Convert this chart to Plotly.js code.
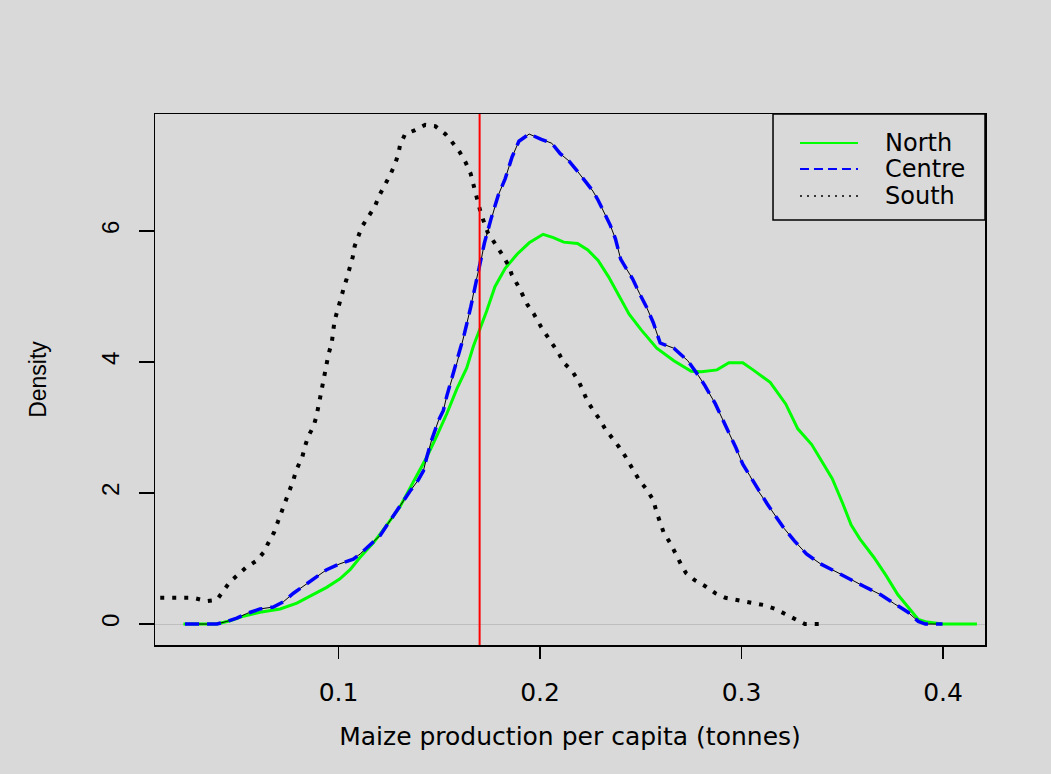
<!DOCTYPE html>
<html>
<head>
<meta charset="utf-8">
<script src="https://cdn.plot.ly/plotly-3.0.1.min.js"></script>
<style>html,body{margin:0;padding:0;background:#d9d9d9;}#chart{width:1051px;height:774px;}</style>
</head>
<body>
<div id="chart"></div>
<script>
// Density estimates
const northX = [0.023,0.0396,0.0462,0.0528,0.061,0.071,0.0793,0.0875,0.0941,0.1007,0.1057,0.1107,0.1173,0.1239,0.1305,0.1371,0.1438,0.1487,0.1537,0.1587,0.1636,0.1669,0.1702,0.1735,0.1776,0.1827,0.1887,0.1946,0.2015,0.2066,0.2117,0.2186,0.2237,0.2288,0.234,0.239,0.2442,0.2502,0.2579,0.2664,0.275,0.2801,0.2878,0.2937,0.3006,0.3057,0.3142,0.3219,0.3279,0.3348,0.3407,0.345,0.3502,0.3544,0.3587,0.3656,0.3715,0.3775,0.3826,0.3877,0.392,0.3997,0.4168];
const northY = [0,0,0.05,0.12,0.18,0.23,0.32,0.45,0.56,0.69,0.83,1.02,1.24,1.51,1.79,2.17,2.55,2.87,3.21,3.59,3.91,4.24,4.51,4.78,5.15,5.43,5.65,5.82,5.95,5.90,5.83,5.81,5.71,5.55,5.30,5.01,4.73,4.49,4.21,4.02,3.86,3.85,3.88,3.99,3.99,3.88,3.69,3.36,2.98,2.74,2.44,2.22,1.84,1.51,1.30,1.02,0.75,0.45,0.26,0.07,0.03,0,0];

const centreX = [0.0238,0.0396,0.0445,0.0495,0.0544,0.061,0.0676,0.0726,0.0776,0.0825,0.0875,0.0941,0.1007,0.1073,0.1107,0.1156,0.1206,0.1247,0.1289,0.1322,0.1355,0.1396,0.1421,0.1438,0.1463,0.1495,0.152,0.1537,0.1562,0.1588,0.1622,0.1656,0.1681,0.1707,0.1724,0.1758,0.1793,0.1827,0.1861,0.1895,0.1946,0.2006,0.2058,0.21,0.2143,0.2186,0.222,0.2262,0.2288,0.2323,0.2348,0.2374,0.24,0.2425,0.2459,0.2493,0.2528,0.2562,0.2596,0.2664,0.2733,0.2784,0.2818,0.287,0.2903,0.2938,0.2972,0.3006,0.304,0.3083,0.3126,0.3168,0.3211,0.3262,0.3322,0.3391,0.345,0.3519,0.3604,0.3689,0.3758,0.3826,0.3877,0.3912,0.3997];
const centreY = [0,0,0.04,0.09,0.16,0.23,0.26,0.34,0.47,0.58,0.69,0.83,0.92,0.99,1.07,1.21,1.35,1.54,1.73,1.89,2.03,2.20,2.34,2.55,2.82,3.10,3.26,3.48,3.75,3.99,4.40,4.84,5.22,5.55,5.82,6.20,6.55,6.80,7.13,7.37,7.48,7.40,7.34,7.18,7.07,6.91,6.78,6.61,6.47,6.26,6.09,5.88,5.57,5.44,5.27,5.05,4.84,4.60,4.29,4.21,4.02,3.80,3.64,3.36,3.14,2.93,2.69,2.44,2.27,2.03,1.84,1.65,1.46,1.27,1.07,0.92,0.83,0.72,0.58,0.45,0.31,0.18,0.04,0,0];

const southX = [0.0115,0.0214,0.028,0.0346,0.0396,0.046,0.050,0.054,0.059,0.063,0.065,0.068,0.070,0.072,0.074,0.076,0.0776,0.079,0.082,0.0834,0.085,0.0875,0.089,0.091,0.092,0.093,0.0938,0.095,0.0966,0.0972,0.098,0.0994,0.1008,0.1024,0.104,0.1057,0.107,0.108,0.110,0.1115,0.115,0.118,0.120,0.123,0.1255,0.128,0.1297,0.1305,0.133,0.138,0.143,0.148,0.153,0.156,0.160,0.163,0.1655,0.168,0.1707,0.174,0.1776,0.181,0.1844,0.186,0.1895,0.1938,0.197,0.2006,0.2058,0.209,0.2117,0.216,0.2194,0.2211,0.2237,0.2271,0.2297,0.2323,0.2356,0.239,0.2425,0.2459,0.2493,0.2528,0.2562,0.2579,0.2613,0.2647,0.2672,0.2698,0.2724,0.2767,0.2818,0.287,0.292,0.298,0.304,0.311,0.3168,0.322,0.327,0.3314,0.339];
const southY = [0.40,0.40,0.40,0.35,0.37,0.64,0.75,0.86,0.96,1.10,1.23,1.40,1.57,1.73,1.89,2.06,2.20,2.35,2.55,2.72,2.87,3.01,3.17,3.48,3.64,3.80,3.97,4.12,4.29,4.46,4.63,4.78,4.95,5.11,5.27,5.44,5.60,5.77,5.92,6.06,6.23,6.37,6.53,6.69,6.85,7.02,7.18,7.31,7.48,7.54,7.62,7.60,7.48,7.37,7.21,7.05,6.88,6.58,6.26,5.98,5.82,5.65,5.47,5.33,5.14,4.87,4.73,4.53,4.29,4.15,3.99,3.86,3.69,3.56,3.39,3.23,3.12,2.98,2.85,2.71,2.55,2.38,2.19,2.06,1.89,1.70,1.40,1.23,1.07,0.92,0.78,0.67,0.58,0.47,0.40,0.37,0.34,0.29,0.23,0.15,0.07,0,0];

const seriesNames = ['North','Centre','South'];
const seriesColors = ['#00ff00','#0000ff','#000000'];
const thresholdX = 0.17;
const xTickVals = [0.1,0.2,0.3,0.4];
const xTickText = ['0.1','0.2','0.3','0.4'];
const yTickVals = [0,2,4,6];
const yTickText = ['0','2','4','6'];

const hFont = 'DejaVu Sans, Liberation Sans, Arial, sans-serif';
const vFont = 'Liberation Sans, Arial, sans-serif';

const traces = [
  {x: northX, y: northY, type: 'scatter', mode: 'lines', name: seriesNames[0], showlegend: false,
   line: {color: seriesColors[0], width: 3}},
  {x: centreX, y: centreY, type: 'scatter', mode: 'lines', showlegend: false, hoverinfo: 'skip',
   line: {color: '#000000', width: 1}},
  {x: centreX, y: centreY, type: 'scatter', mode: 'lines', name: seriesNames[1], showlegend: false,
   line: {color: seriesColors[1], width: 3.5, dash: '14px,8px'}},
  {x: southX, y: southY, type: 'scatter', mode: 'lines', name: seriesNames[2], showlegend: false,
   line: {color: seriesColors[2], width: 4, dash: '4px,8px'}}
];

// Legend box drawn in the R style (box, short line samples, labels)
const legBox = {x0: 0.7446, x1: 1.0, y0: 0.8004, y1: 1.0};
const legLineX = [0.7771, 0.8470];
const legTextX = 0.8771;
const legRowY = [0.9454, 0.8964, 0.8456];
const legDash = ['solid', '9px,5px', '2px,5px'];
const legWidth = [2, 2, 1.5];

const shapes = [
  {type: 'line', xref: 'x', yref: 'paper', x0: thresholdX, x1: thresholdX, y0: 0, y1: 1,
   line: {color: '#ff0000', width: 2}},
  {type: 'rect', xref: 'paper', yref: 'paper', x0: legBox.x0, x1: legBox.x1, y0: legBox.y0, y1: legBox.y1,
   line: {color: '#000000', width: 1.5}, fillcolor: '#d9d9d9'}
];
const annotations = [];
seriesNames.forEach((nm, i) => {
  shapes.push({type: 'line', xref: 'paper', yref: 'paper', x0: legLineX[0], x1: legLineX[1],
    y0: legRowY[i], y1: legRowY[i], line: {color: seriesColors[i], width: legWidth[i], dash: legDash[i]}});
  annotations.push({xref: 'paper', yref: 'paper', x: legTextX, y: legRowY[i], xanchor: 'left', yanchor: 'middle',
    text: nm, showarrow: false, font: {family: hFont, size: 24, color: '#000000'}});
});

const layout = {
  width: 1051, height: 774,
  margin: {l: 155, r: 66, t: 114, b: 129},
  paper_bgcolor: '#d9d9d9', plot_bgcolor: '#d9d9d9',
  showlegend: false,
  font: {family: hFont, color: '#000000'},
  xaxis: {
    range: [0.0089, 0.4208], tickvals: xTickVals, ticktext: xTickText,
    ticks: 'outside', ticklen: 12, tickwidth: 1.5, tickcolor: '#000000',
    showline: true, mirror: true, linecolor: '#000000', linewidth: 1.5,
    showgrid: false, zeroline: false,
    tickfont: {family: hFont, size: 25, color: '#000000'},
    ticklabelstandoff: 12,
    title: {text: 'Maize production per capita (tonnes)', font: {family: hFont, size: 25, color: '#000000'}, standoff: 22},
    automargin: false
  },
  yaxis: {
    range: [-0.32, 7.786], tickvals: yTickVals, ticktext: yTickText,
    ticks: 'outside', ticklen: 15, tickwidth: 1.5, tickcolor: '#000000',
    tickangle: -90,
    showline: true, mirror: true, linecolor: '#000000', linewidth: 1.5,
    showgrid: false, zeroline: true, zerolinecolor: '#bebebe', zerolinewidth: 1,
    tickfont: {family: vFont, size: 24, color: '#000000'},
    ticklabelstandoff: 10,
    title: {text: 'Density', font: {family: vFont, size: 23, color: '#000000'}, standoff: 44},
    automargin: false
  },
  shapes: shapes,
  annotations: annotations
};

Plotly.newPlot('chart', traces, layout, {displayModeBar: false, staticPlot: true});
</script>
</body>
</html>
